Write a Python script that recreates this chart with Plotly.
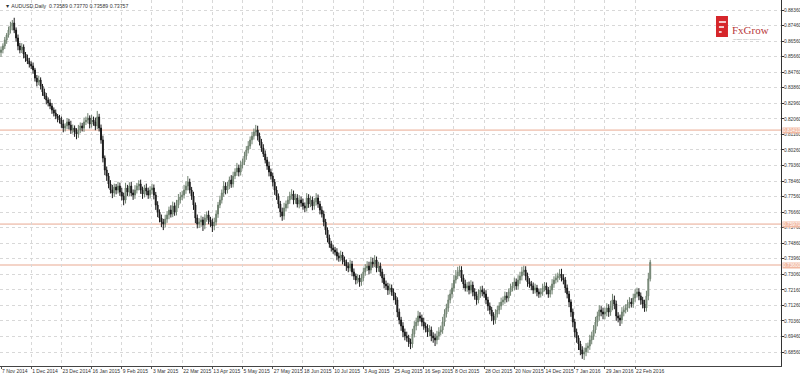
import plotly.graph_objects as go

# ---- data (AUDUSD daily) ----
close = [
    0.8605, 0.8628, 0.8662, 0.8691, 0.8720, 0.8743, 0.8761, 0.8720, 0.8674, 0.8628, 0.8605, 0.8622, 0.8581, 0.8558, 0.8541, 0.8523,
    0.8512, 0.8489, 0.8442, 0.8419, 0.8431, 0.8396, 0.8361, 0.8338, 0.8315, 0.8298, 0.8280, 0.8257, 0.8240, 0.8222, 0.8211, 0.8199,
    0.8176, 0.8153, 0.8165, 0.8188, 0.8170, 0.8141, 0.8153, 0.8130, 0.8118, 0.8141, 0.8165, 0.8153, 0.8188, 0.8199, 0.8211, 0.8176,
    0.8199, 0.8188, 0.8165, 0.8217, 0.8153, 0.8084, 0.7979, 0.7910, 0.7875, 0.7829, 0.7794, 0.7777, 0.7811, 0.7794, 0.7817, 0.7782,
    0.7759, 0.7736, 0.7806, 0.7782, 0.7817, 0.7777, 0.7765, 0.7794, 0.7817, 0.7829, 0.7794, 0.7771, 0.7806, 0.7788, 0.7765, 0.7794,
    0.7806, 0.7765, 0.7707, 0.7667, 0.7632, 0.7609, 0.7597, 0.7626, 0.7650, 0.7678, 0.7655, 0.7702, 0.7667, 0.7707, 0.7736, 0.7754,
    0.7765, 0.7794, 0.7817, 0.7840, 0.7794, 0.7759, 0.7707, 0.7632, 0.7597, 0.7609, 0.7621, 0.7592, 0.7632, 0.7650, 0.7621, 0.7609,
    0.7586, 0.7609, 0.7655, 0.7707, 0.7736, 0.7777, 0.7817, 0.7794, 0.7817, 0.7852, 0.7829, 0.7875, 0.7898, 0.7921, 0.7898, 0.7939,
    0.7956, 0.7991, 0.8026, 0.8049, 0.8084, 0.8106, 0.8130, 0.8141, 0.8106, 0.8072, 0.8037, 0.8003, 0.7968, 0.7933, 0.7898, 0.7875,
    0.7840, 0.7794, 0.7759, 0.7713, 0.7667, 0.7644, 0.7690, 0.7713, 0.7736, 0.7759, 0.7771, 0.7736, 0.7748, 0.7713, 0.7736, 0.7719,
    0.7702, 0.7690, 0.7748, 0.7713, 0.7736, 0.7702, 0.7725, 0.7748, 0.7713, 0.7678, 0.7655, 0.7609, 0.7563, 0.7516, 0.7482, 0.7458,
    0.7447, 0.7435, 0.7412, 0.7401, 0.7418, 0.7389, 0.7377, 0.7354, 0.7343, 0.7366, 0.7320, 0.7296, 0.7273, 0.7285, 0.7262, 0.7285,
    0.7320, 0.7343, 0.7354, 0.7331, 0.7377, 0.7366, 0.7389, 0.7343, 0.7354, 0.7320, 0.7285, 0.7250, 0.7239, 0.7215, 0.7227, 0.7204,
    0.7181, 0.7158, 0.7088, 0.7042, 0.7007, 0.6972, 0.6949, 0.6938, 0.6914, 0.6903, 0.6961, 0.7007, 0.7030, 0.7065, 0.7053, 0.7030,
    0.7007, 0.6995, 0.6972, 0.6984, 0.6949, 0.6938, 0.6926, 0.6949, 0.6972, 0.6984, 0.7030, 0.7076, 0.7111, 0.7158, 0.7192, 0.7227,
    0.7273, 0.7296, 0.7320, 0.7331, 0.7285, 0.7250, 0.7227, 0.7239, 0.7215, 0.7244, 0.7204, 0.7181, 0.7158, 0.7192, 0.7215, 0.7204,
    0.7192, 0.7158, 0.7123, 0.7100, 0.7065, 0.7042, 0.7076, 0.7100, 0.7123, 0.7146, 0.7158, 0.7181, 0.7169, 0.7204, 0.7227, 0.7239,
    0.7262, 0.7239, 0.7273, 0.7296, 0.7320, 0.7331, 0.7296, 0.7262, 0.7250, 0.7239, 0.7215, 0.7227, 0.7204, 0.7192, 0.7204, 0.7227,
    0.7239, 0.7215, 0.7192, 0.7215, 0.7250, 0.7273, 0.7285, 0.7296, 0.7308, 0.7285, 0.7273, 0.7227, 0.7192, 0.7146, 0.7088, 0.7030,
    0.6972, 0.6938, 0.6903, 0.6868, 0.6845, 0.6857, 0.6880, 0.6891, 0.6926, 0.6949, 0.6984, 0.7030, 0.7065, 0.7100, 0.7088, 0.7076,
    0.7088, 0.7111, 0.7088, 0.7123, 0.7158, 0.7134, 0.7065, 0.7053, 0.7042, 0.7088, 0.7100, 0.7111, 0.7134, 0.7146, 0.7134, 0.7169,
    0.7192, 0.7204, 0.7181, 0.7158, 0.7134, 0.7111, 0.7181, 0.7280, 0.7376,
]
first_open = 0.8590

# upper / lower shadow lengths in pips
wick_up_pips = [
    20,15,18,12,20,25,17,30,15,20,18,22,15,12,20,18,
    15,20,12,18,25,15,12,20,18,15,22,18,15,20,12,18,
    20,25,15,22,18,25,20,15,22,30,20,18,25,20,28,15,
    30,20,25,35,18,20,25,15,20,18,22,30,20,18,25,20,
    25,20,30,18,22,25,20,28,18,22,25,20,18,25,20,22,
    25,20,18,22,15,20,18,25,22,20,28,25,20,30,35,28,
    25,30,28,35,20,18,25,15,20,22,25,18,22,20,25,18,
    20,25,22,18,25,20,28,22,25,20,28,25,22,30,20,25,
    20,25,22,28,20,25,20,30,25,20,18,22,20,18,25,20,
    20,18,22,15,18,25,30,20,22,25,28,20,25,22,28,20,
    25,20,28,22,25,20,22,28,20,18,22,20,18,15,20,18,
    20,18,22,20,25,18,20,15,22,25,18,20,15,22,18,25,
    25,22,28,25,30,25,28,20,25,20,18,22,20,18,25,20,
    20,18,15,20,18,22,20,25,18,20,30,28,25,30,22,20,
    25,20,22,28,20,22,25,30,28,25,30,28,25,30,25,28,
    30,35,30,25,22,20,25,22,25,28,20,22,25,28,22,25,
    20,22,18,20,18,22,28,25,22,25,20,25,22,20,25,22,
    25,20,28,25,30,25,22,20,22,18,20,25,18,20,22,25,
    22,20,18,25,28,22,25,20,28,30,22,18,20,18,15,20,
    18,20,15,18,22,25,28,20,30,25,28,30,25,28,22,25,
    25,28,22,30,35,25,20,22,20,28,25,22,25,28,22,25,
    28,25,22,20,18,25,30,35,15,
]
wick_dn_pips = [
    25,20,18,22,15,20,25,18,22,25,20,18,25,22,18,20,
    18,22,20,25,18,20,22,18,25,20,18,22,20,18,25,20,
    22,25,20,18,25,22,20,28,30,22,18,20,22,18,20,25,
    20,22,25,18,20,22,25,30,28,25,20,30,22,25,20,22,
    25,30,20,22,25,20,28,22,20,25,22,28,20,25,22,20,
    22,25,28,30,25,30,35,20,22,25,20,18,22,20,18,20,
    18,20,22,25,20,22,28,30,25,22,28,35,25,22,25,28,
    35,25,20,22,18,20,22,25,20,18,22,20,18,22,25,20,
    20,18,22,20,18,25,20,22,25,20,22,18,20,22,25,20,
    25,28,22,25,30,28,22,20,25,22,20,25,22,20,25,22,
    22,25,20,22,18,25,22,20,22,25,20,25,28,25,22,20,
    22,20,25,22,20,25,22,28,25,20,25,22,25,20,28,22,
    20,22,18,25,20,22,18,25,22,25,28,25,22,28,25,22,
    25,28,30,25,28,30,25,22,28,30,22,20,25,22,20,25,
    22,25,28,25,30,28,35,25,22,20,22,25,20,22,20,25,
    22,20,18,25,22,25,20,22,25,20,25,22,28,20,22,25,
    22,25,28,25,30,28,22,20,25,22,20,22,25,20,22,20,
    25,22,20,22,25,20,25,28,22,25,22,20,25,22,20,22,
    20,25,22,20,25,22,20,25,22,20,25,28,25,30,28,30,
    30,28,35,30,28,35,25,28,22,25,22,20,25,28,25,30,
    30,25,28,22,25,30,28,25,35,22,25,20,22,25,20,22,
    22,20,25,28,25,22,20,25,15,
]

date_labels = [
    "7 Nov 2014", "1 Dec 2014", "23 Dec 2014", "16 Jan 2015", "9 Feb 2015",
    "3 Mar 2015", "22 Mar 2015", "13 Apr 2015", "5 May 2015", "27 May 2015",
    "18 Jun 2015", "10 Jul 2015", "3 Aug 2015", "25 Aug 2015", "16 Sep 2015",
    "8 Oct 2015", "28 Oct 2015", "20 Nov 2015", "14 Dec 2015", "7 Jan 2016",
    "29 Jan 2016", "22 Feb 2016",
]
bars_per_label = 16

price_ticks = [
    0.88360, 0.87460, 0.86560, 0.85660, 0.84760, 0.83860, 0.82960, 0.82060,
    0.81160, 0.80260, 0.79360, 0.78460, 0.77560, 0.76660, 0.75760, 0.74860,
    0.73960, 0.73060, 0.72160, 0.71260, 0.70360, 0.69460, 0.68560, 0.67660,
]
levels = [0.81410, 0.75970, 0.73600]

title_text = "\u25BC AUDUSD,Daily  0.73589 0.73770 0.73589 0.73757"

# ---- build ----
assert len(close) == len(wick_up_pips) == len(wick_dn_pips), (len(close), len(wick_up_pips), len(wick_dn_pips))
n = len(close)
opens = [first_open] + close[:-1]
highs = [max(o, c) + u * 0.0001 for o, c, u in zip(opens, close, wick_up_pips)]
lows = [min(o, c) - d * 0.0001 for o, c, d in zip(opens, close, wick_dn_pips)]
xs = list(range(n))

fig = go.Figure()
fig.add_trace(go.Candlestick(
    x=xs, open=opens, high=highs, low=lows, close=close,
    increasing=dict(line=dict(color="#6f806f", width=1), fillcolor="#a3b0a3"),
    decreasing=dict(line=dict(color="#1a1a1a", width=1), fillcolor="#1a1a1a"),
    whiskerwidth=0, showlegend=False, hoverinfo="skip",
))

FONT = "Liberation Sans"
level_color = "#e9a991"
for lv in levels:
    fig.add_shape(type="line", xref="paper", x0=0, x1=1, yref="y", y0=lv, y1=lv,
                  line=dict(color=level_color, width=1), layer="below")
    fig.add_annotation(xref="paper", x=1, xanchor="left", yref="y", y=lv, yanchor="middle",
                       text=f"{lv:.5f}", showarrow=False, bgcolor="#f1b9a3",
                       font=dict(family=FONT, size=4.8, color="#ffffff"), borderpad=0, xshift=1)

fig.add_annotation(xref="paper", x=0.004, xanchor="left", yref="paper", y=1, yanchor="top", yshift=-1,
                   text=title_text, showarrow=False, font=dict(family=FONT, size=5.2, color="#333333"))

# logo
fig.add_shape(type="rect", xref="paper", yref="paper", x0=0.9168, x1=0.9321, y0=0.8989, y1=0.9563,
              fillcolor="#d6262b", line=dict(width=0))
for yy, x1 in ((0.9399, 0.9295), (0.9262, 0.9270), (0.9126, 0.9240)):
    fig.add_shape(type="line", xref="paper", yref="paper", x0=0.9205, x1=x1, y0=yy, y1=yy,
                  line=dict(color="#ffffff", width=1.5))
fig.add_annotation(xref="paper", x=0.9345, xanchor="left", yref="paper", y=0.918, yanchor="middle",
                   text="FxGrow", showarrow=False,
                   font=dict(family="Liberation Serif", size=11, color="#b8383a"))
fig.add_annotation(xref="paper", x=0.9365, xanchor="left", yref="paper", y=0.893, yanchor="middle",
                   text="INVEST WITH GROWTH", showarrow=False,
                   font=dict(family=FONT, size=2.5, color="#999999"))

fig.update_layout(
    width=800, height=376,
    margin=dict(l=0, r=19, t=0, b=10, autoexpand=False),
    paper_bgcolor="#ffffff", plot_bgcolor="#ffffff",
    xaxis=dict(
        range=[-0.53, 413.3], rangeslider=dict(visible=False),
        tickmode="array",
        tickvals=[i * bars_per_label for i in range(len(date_labels))],
        ticktext=date_labels,
        tickangle=0, automargin=False,
        ticklabelposition="outside right",
        tickfont=dict(family=FONT, size=5, color="#333333"),
        ticks="outside", ticklen=2, tickcolor="#555555",
        showgrid=True, gridcolor="#d8d8d8", griddash="dot", gridwidth=1,
        showline=True, linecolor="#444444", linewidth=1,
        zeroline=False, fixedrange=True,
    ),
    yaxis=dict(
        side="right", range=[0.67755, 0.88939], automargin=False,
        tickmode="array", tickvals=price_ticks,
        ticktext=[f"{v:.5f}" for v in price_ticks],
        tickfont=dict(family=FONT, size=4.8, color="#333333"),
        ticks="outside", ticklen=2, tickcolor="#333333",
        ticklabelstandoff=-1,
        showgrid=True, gridcolor="#d8d8d8", griddash="dot", gridwidth=1,
        showline=True, mirror=True, linecolor="#333333", linewidth=1,
        zeroline=False, fixedrange=True,
    ),
)

fig.write_html("out.html")
